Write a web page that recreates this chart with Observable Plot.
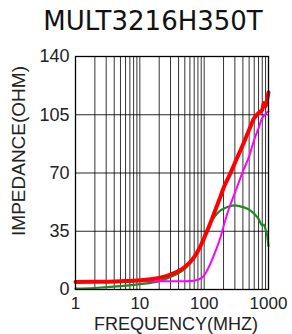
<!DOCTYPE html>
<html>
<head>
<meta charset="utf-8">
<script src="https://cdn.jsdelivr.net/npm/d3@7"></script>
<script src="https://cdn.jsdelivr.net/npm/@observablehq/plot@0.6"></script>
<style>
  body { margin: 0; padding: 0; background: #fff; }
  #title { height: 44px; width: 292px; font-family: "DejaVu Sans", sans-serif; font-size: 26px; line-height: 42px; text-align: center; padding-left: 14px; box-sizing: border-box; color: #111; }
  #chart svg { display: block; }
</style>
</head>
<body>
<div id="title">MULT3216H350T</div>
<div id="chart"></div>
<script>
const title = "MULT3216H350T";
const xLabel = "FREQUENCY(MHZ)";
const yLabel = "IMPEDANCE(OHM)";
const xTicks = [1, 10, 100, 1000];
const yTicks = [0, 35, 70, 105, 140];

// Frequencies (MHz)
const freq = [1, 2, 5, 10, 20, 30, 50, 70, 90, 100, 125, 150, 180, 200, 250, 300, 400, 500, 600, 700, 800, 850, 900, 950, 1000];
// |Z| (red)
const zValues = [4.5, 4.6, 5.0, 5.6, 7.0, 9.0, 13.5, 19.5, 27, 31, 40, 48, 56, 61, 69, 76, 87, 96, 103, 106, 108, 112, 110, 114, 118.5];
// R (green)
const rValues = [0.5, 0.9, 2.0, 3.2, 5.0, 7.5, 12.5, 19, 27, 31, 40, 44.5, 47.5, 48.5, 50, 50.5, 49.5, 48, 45.5, 42.5, 38.5, 39, 36, 33, 26];
// X (magenta)
const xValues = [5, 5, 5, 5, 5, 5, 5, 5.3, 6.8, 8.5, 15.5, 23, 31.5, 38, 50, 58, 71, 80, 90, 97, 103, 104.5, 105.5, 106.5, 107];

const series = (vals, name) => freq.map((f, i) => ({f, v: vals[i], name}));
const zData = series(zValues, "Z");
const rData = series(rValues, "R");
const xData = series(xValues, "X");

const gridX = [];
for (const d of [1, 10, 100]) for (let k = 1; k < 10; k++) gridX.push(d * k);
gridX.push(1000);

const chart = Plot.plot({
  width: 292,
  height: 290,
  marginTop: 12,
  marginBottom: 45,
  marginLeft: 75,
  marginRight: 24,
  style: {fontFamily: "'Liberation Sans', Arial, sans-serif", fontSize: "18px", color: "#222", background: "#fff"},
  x: {type: "log", domain: [1, 1000]},
  y: {domain: [0, 140]},
  marks: [
    Plot.ruleX(gridX, {stroke: "#000", strokeOpacity: 0.8, strokeWidth: 1}),
    Plot.ruleY(yTicks, {stroke: "#000", strokeOpacity: 0.85, strokeWidth: 1.2}),
    Plot.axisX(xTicks, {tickSize: 0, tickPadding: 7, label: null, tickFormat: d => String(d), fontSize: 17}),
    Plot.axisY(yTicks, {tickSize: 0, tickPadding: 6, label: null, fontSize: 18}),
    Plot.line(rData, {x: "f", y: "v", stroke: "#1f8a1f", strokeWidth: 2.2, curve: "monotone-x"}),
    Plot.line(xData, {x: "f", y: "v", stroke: "#ff00ff", strokeWidth: 2, curve: "monotone-x"}),
    Plot.line(zData, {x: "f", y: "v", stroke: "#ff0000", strokeWidth: 4, curve: "monotone-x"}),
    Plot.frame({stroke: "#000", strokeWidth: 1.3}),
    Plot.text([yLabel], {frameAnchor: "left", dx: -57, dy: -22, rotate: -90, fontSize: 19, fill: "#222", textAnchor: "middle"}),
    Plot.text([xLabel], {frameAnchor: "bottom", dy: 40, dx: 4, fontSize: 18, fill: "#222", textAnchor: "middle"})
  ]
});
document.getElementById("chart").appendChild(chart);
</script>
</body>
</html>
